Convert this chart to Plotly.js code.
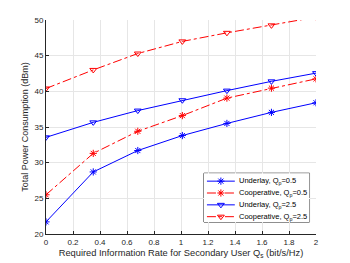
<!DOCTYPE html>
<html><head><meta charset="utf-8">
<script src="https://cdn.plot.ly/plotly-3.0.1.min.js"></script>
<style>body{margin:0;background:#fff}#c{width:350px;height:263px}</style>
</head><body><div id="c"></div>
<script>
const rate = [0, 0.35, 0.68, 1.01, 1.34, 1.67, 2];
const underlay05 = [21.7, 28.7, 31.7, 33.8, 35.5, 37.05, 38.4];
const coop05 = [25.5, 31.3, 34.4, 36.6, 39.05, 40.45, 41.75];
const underlay25 = [33.55, 35.65, 37.3, 38.75, 40.1, 41.4, 42.55];
const coop25 = [40.4, 43.0, 45.3, 47.0, 48.2, 49.25, 50.4];
const names = ['Underlay, Q<sub>p</sub>=0.5','Cooperative, Q<sub>p</sub>=0.5','Underlay, Q<sub>p</sub>=2.5','Cooperative, Q<sub>p</sub>=2.5'];
const xTicks = [0,0.2,0.4,0.6,0.8,1,1.2,1.4,1.6,1.8,2];
const yTicks = [20,25,30,35,40,45,50];

const styles = [
  {color:'#0000ff', dash:'solid', sym:'asterisk-open'},
  {color:'#ff0000', dash:'dashdot', sym:'asterisk-open'},
  {color:'#0000ff', dash:'solid', sym:'triangle-down-open'},
  {color:'#ff0000', dash:'dashdot', sym:'triangle-down-open'}
];
const series = [underlay05, coop05, underlay25, coop25];

const data = [];
series.forEach((y, i) => {
  const s = styles[i];
  data.push({x: rate, y: y, name: names[i], type:'scatter', mode:'lines+markers', cliponaxis:true,
    line:{color:s.color, width:1, dash:s.dash},
    marker:{symbol:s.sym, size:6, color:s.color, line:{color:s.color, width:1}}});
});
// legend samples drawn in an inset subplot (x2/y2)
const annotations = [];
names.forEach((n, i) => {
  const s = styles[i];
  data.push({x:[3,31], y:[i+1,i+1], xaxis:'x2', yaxis:'y2', mode:'lines', hoverinfo:'skip',
    line:{color:s.color, width:1, dash:s.dash}});
  data.push({x:[17], y:[i+1], xaxis:'x2', yaxis:'y2', mode:'markers', hoverinfo:'skip',
    marker:{symbol:s.sym, size:6, color:s.color, line:{color:s.color, width:1}}});
  annotations.push({xref:'x2', yref:'y2', x:33, y:i+1, text:n, showarrow:false, xanchor:'left', yanchor:'middle',
    font:{size:7.5, color:'#000'}});
});

const axcol = '#262626';
const layout = {
  width:350, height:263, margin:{l:45.5, r:33.5, t:19.5, b:29, autoexpand:false},
  paper_bgcolor:'#fff', plot_bgcolor:'#fff', showlegend:false,
  font:{family:'Liberation Sans, Arial, sans-serif', size:8, color:axcol},
  xaxis:{range:[0,2], tickvals:xTicks, ticktext:xTicks.map(String), showgrid:true, gridcolor:'#e6e6e6',
    ticks:'inside', ticklen:3, tickcolor:axcol, showline:true, linecolor:axcol, linewidth:1, zeroline:false,
    tickfont:{size:8, color:axcol}, automargin:false,
    title:{text:'Required Information Rate for Secondary User Q<sub>s</sub> (bit/s/Hz)', font:{size:9.3, color:axcol}, standoff:3}},
  yaxis:{range:[20,50], tickvals:yTicks, showgrid:true, gridcolor:'#e6e6e6',
    ticks:'inside', ticklen:3, tickcolor:axcol, showline:true, linecolor:axcol, linewidth:1, zeroline:false,
    tickfont:{size:8, color:axcol}, automargin:false,
    title:{text:'Total Power Consumption (dBm)', font:{size:9, color:axcol}, standoff:4}},
  xaxis2:{domain:[0.585,0.976], range:[0,106], visible:false, fixedrange:true, anchor:'y2'},
  yaxis2:{domain:[0.056,0.284], range:[4.45,0.33], visible:false, fixedrange:true, anchor:'x2'},
  shapes:[{type:'rect', xref:'x2 domain', yref:'y2 domain', x0:0, x1:1, y0:0, y1:1, layer:'below',
    fillcolor:'#ffffff', line:{color:axcol, width:1}}],
  annotations: annotations
};
Plotly.newPlot('c', data, layout, {displayModeBar:false, staticPlot:true});
</script></body></html>
